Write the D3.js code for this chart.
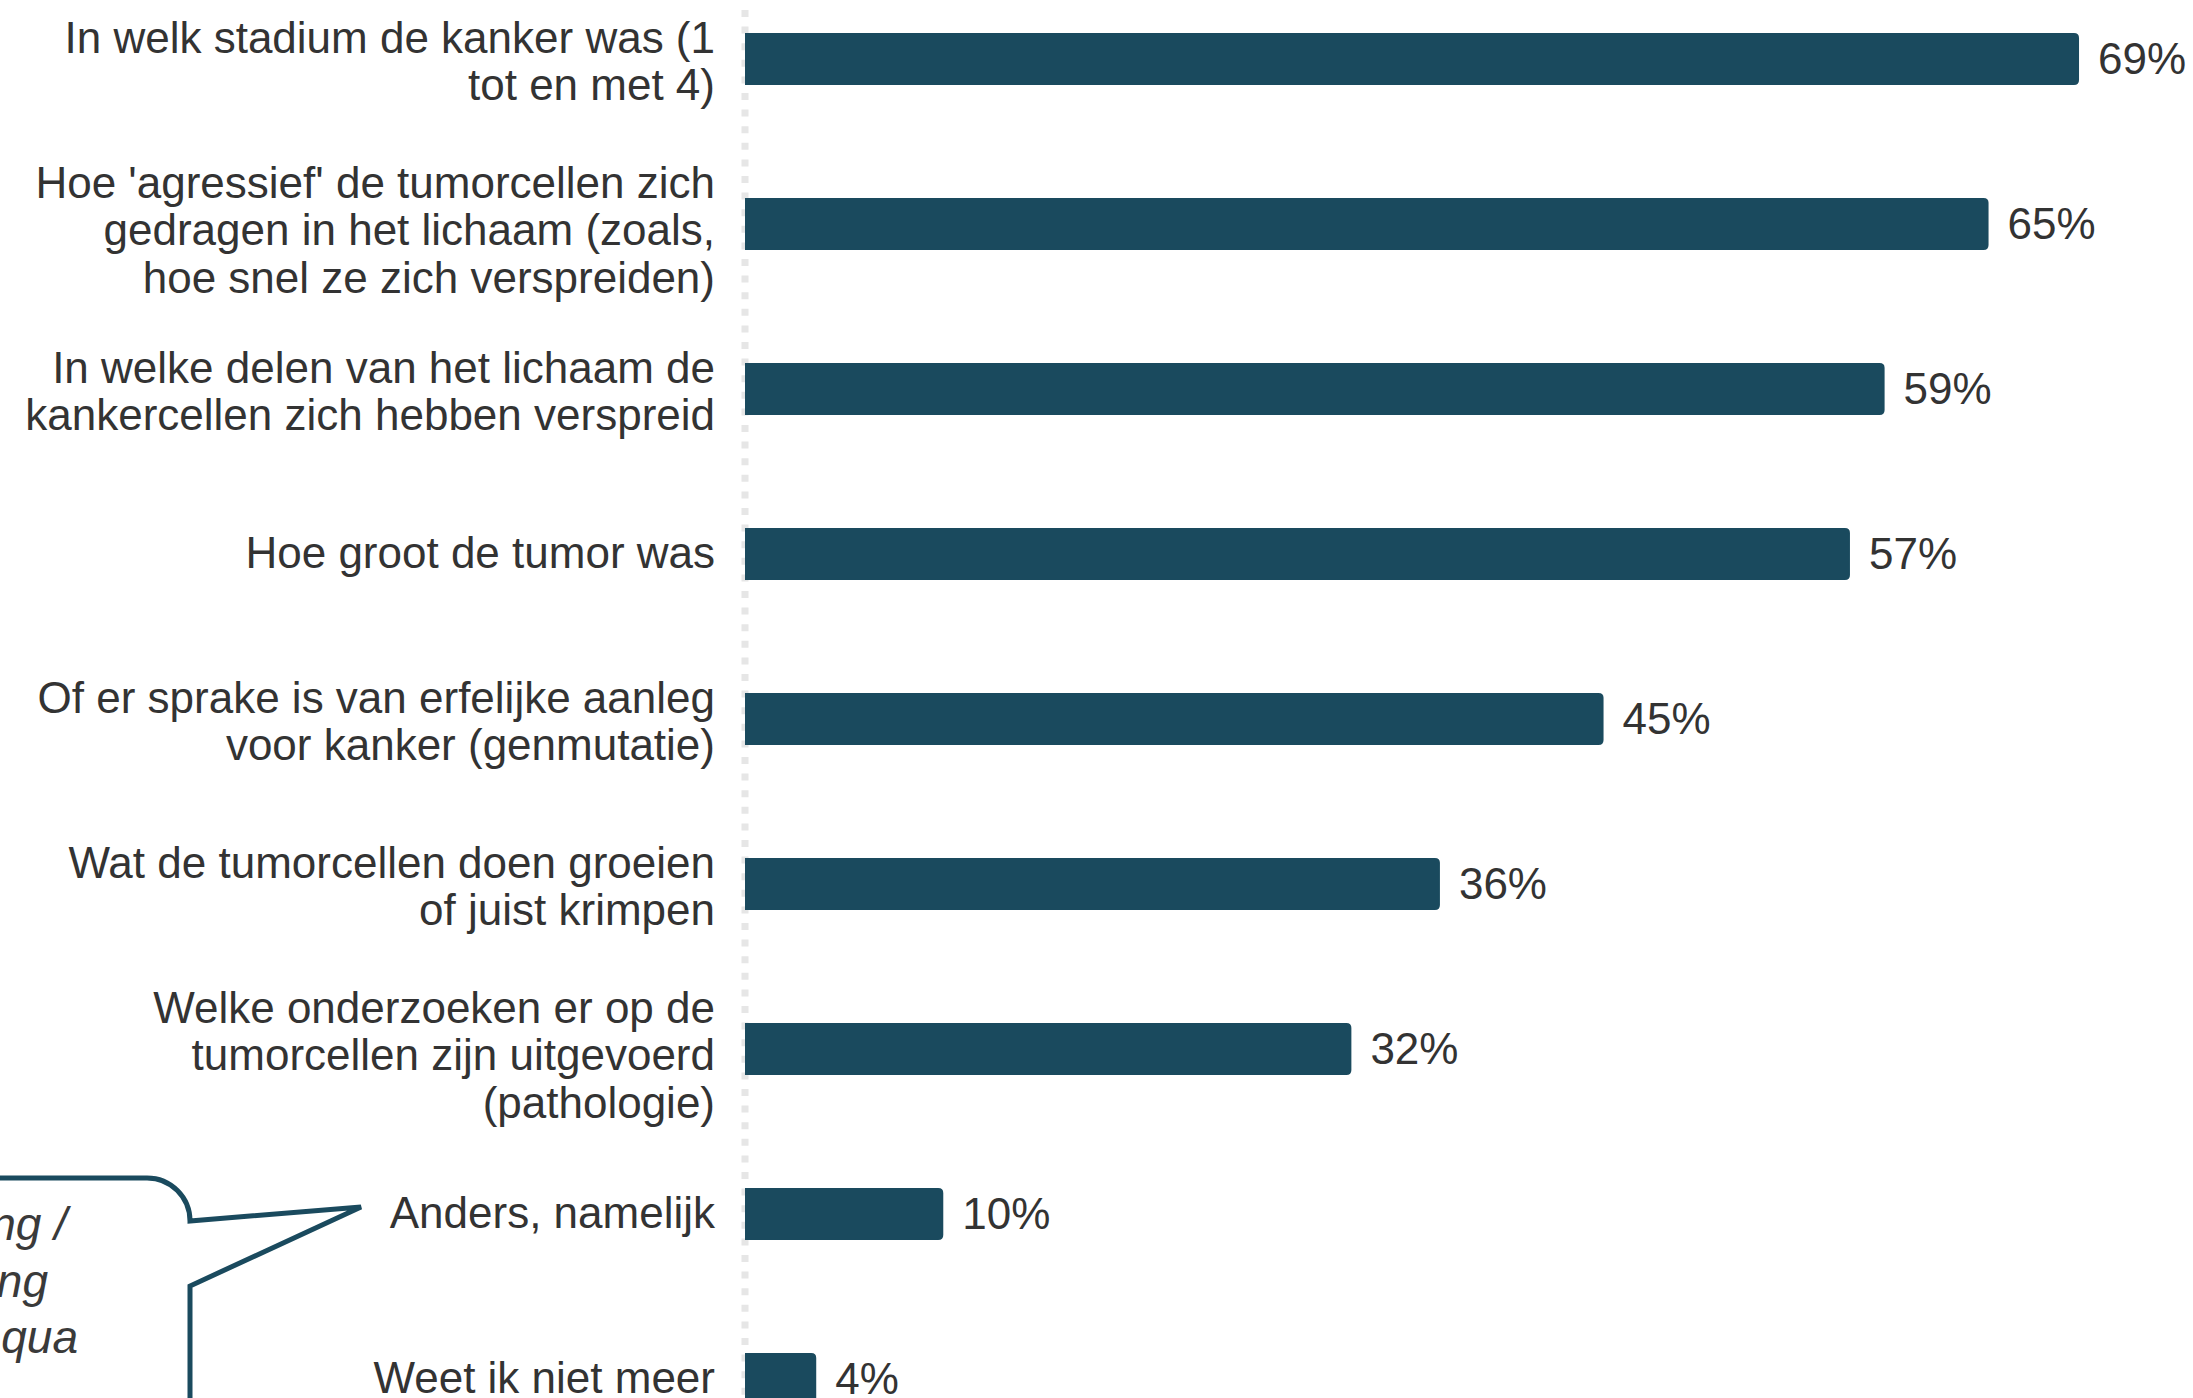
<!DOCTYPE html>
<html>
<head>
<meta charset="utf-8">
<script src="https://cdn.jsdelivr.net/npm/d3@7"></script>
<style>
  body { margin: 0; background: #fff; }
  text { font-family: "Liberation Sans", Arial, sans-serif; }
</style>
</head>
<body>
<div class="dataviz"></div>
<script>
// categories, one line break per "|"
var categories = [
  "In welk stadium de kanker was (1|tot en met 4)",
  "Hoe 'agressief' de tumorcellen zich|gedragen in het lichaam (zoals,|hoe snel ze zich verspreiden)",
  "In welke delen van het lichaam de|kankercellen zich hebben verspreid",
  "Hoe groot de tumor was",
  "Of er sprake is van erfelijke aanleg|voor kanker (genmutatie)",
  "Wat de tumorcellen doen groeien|of juist krimpen",
  "Welke onderzoeken er op de|tumorcellen zijn uitgevoerd|(pathologie)",
  "Anders, namelijk",
  "Weet ik niet meer"
];
var values = [69.3, 64.6, 59.2, 57.4, 44.6, 36.1, 31.5, 10.3, 3.7];
var calloutLines = ["ng /", "ng", "qua"];

var width = 2193,
  height = 1398;

var barColor = "#1a4a5e",
  textColor = "#333333";

var canvas = d3.select(".dataviz").append("svg")
  .attr("width", width)
  .attr("height", height);

var x = d3.scaleLinear()
  .domain([0, 100])
  .range([745, 745 + 1925]);

var y = d3.scalePoint()
  .domain(categories)
  .range([59, 59 + 8 * 165]);

var barH = 52,
  r = 5,
  fs = 44,
  lineH = 47.5;

// dotted baseline
canvas.append("line")
  .attr("x1", x(0)).attr("x2", x(0))
  .attr("y1", 10).attr("y2", height)
  .attr("stroke", "#e6e6e6")
  .attr("stroke-width", 7)
  .attr("stroke-dasharray", "7,9.6");

var rows = canvas.selectAll("g.row")
  .data(categories.map(function(c, i) { return {cat: c, val: values[i]}; }))
  .enter().append("g")
  .attr("class", "row");

// bars, rounded at the right end only
rows.append("path")
  .attr("fill", barColor)
  .attr("d", function(d) {
    var x0 = x(0), x1 = x(d.val), y0 = y(d.cat) - barH / 2, y1 = y0 + barH;
    return "M" + x0 + "," + y0 + "H" + (x1 - r) +
      "Q" + x1 + "," + y0 + " " + x1 + "," + (y0 + r) +
      "V" + (y1 - r) +
      "Q" + x1 + "," + y1 + " " + (x1 - r) + "," + y1 +
      "H" + x0 + "Z";
  });

rows.append("text")
  .attr("x", function(d) { return x(d.val) + 19; })
  .attr("y", function(d) { return y(d.cat) + 15; })
  .attr("font-size", fs)
  .attr("fill", textColor)
  .text(function(d) { return d3.format(".0f")(d.val) + "%"; });

rows.each(function(d) {
  var lines = d.cat.split("|"),
    n = lines.length,
    base = y(d.cat) + 14 + 3.5 * (n - 1);
  var t = d3.select(this).append("text")
    .attr("text-anchor", "end")
    .attr("font-size", fs)
    .attr("fill", textColor);
  lines.forEach(function(l, k) {
    t.append("tspan")
      .attr("x", 715)
      .attr("y", base + (k - (n - 1) / 2) * lineH)
      .text(l);
  });
});

// speech bubble pointing at "Anders, namelijk"
var tipY = y("Anders, namelijk") - 7;
canvas.append("path")
  .attr("fill", "none")
  .attr("stroke", barColor)
  .attr("stroke-width", 5)
  .attr("stroke-linejoin", "miter")
  .attr("d", "M-10,1178 H147 A43,43 0 0 1 190,1221 L361," + tipY +
    " L190,1286 V" + (height + 10));

var cx = [67, 48, 78];
canvas.append("g").selectAll("text")
  .data(calloutLines)
  .enter().append("text")
  .attr("x", function(d, i) { return cx[i]; })
  .attr("y", function(d, i) { return 1240 + i * 56.5; })
  .attr("text-anchor", "end")
  .attr("font-size", 46)
  .attr("font-style", "italic")
  .attr("fill", "#3a3a3a")
  .text(function(d) { return d; });
</script>
</body>
</html>
